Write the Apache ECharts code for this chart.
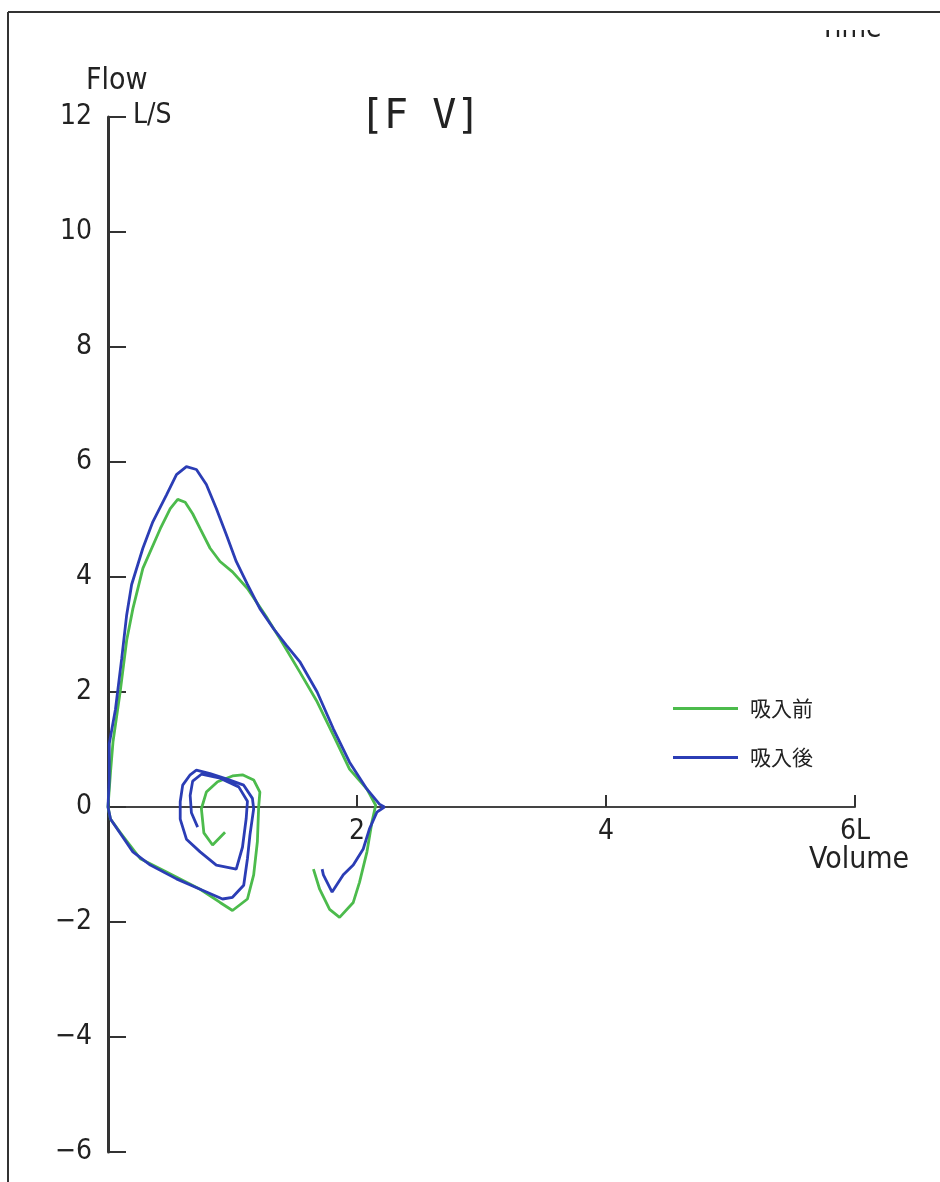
<!DOCTYPE html>
<html>
<head>
<meta charset="utf-8">
<script src="https://cdn.jsdelivr.net/npm/echarts@6/dist/echarts.min.js"></script>
<style>html,body{margin:0;padding:0;background:#fff;}#c{width:940px;height:1182px;}</style>
</head>
<body>
<div id="c"></div>
<script>
// Series names
const seriesNames = ['吸入前', '吸入後'];
// Axis ticks
const xTicks = [0, 2, 4, 6];
const yTicks = [-6, -4, -2, 0, 2, 4, 6, 8, 10, 12];

// 吸入前 (before): tidal loops, drawn from the inner spiral end back to the origin [volume L, flow L/s]
const beforeTidal = [
  [0.94,-0.44],[0.84,-0.66],[0.77,-0.45],[0.75,-0.03],[0.79,0.26],[0.88,0.44],[1.0,0.54],[1.08,0.56],
  [1.17,0.47],[1.22,0.26],[1.21,0.0],[1.2,-0.6],[1.17,-1.18],[1.12,-1.6],[1.0,-1.8],[0.9,-1.66],
  [0.74,-1.43],[0.47,-1.13],[0.26,-0.9],[0.1,-0.45],[0.02,-0.21],[0,0]
];
// 吸入前: forced expiration and following inspiration
const beforeForced = [
  [0.02,0.6],[0.04,1.13],[0.1,2.04],[0.15,2.9],[0.2,3.45],[0.28,4.15],[0.42,4.84],[0.5,5.19],
  [0.56,5.35],[0.62,5.3],[0.68,5.1],[0.74,4.84],[0.82,4.5],[0.9,4.27],[1.0,4.09],[1.12,3.8],
  [1.28,3.28],[1.38,2.93],[1.54,2.35],[1.68,1.83],[1.81,1.25],[1.94,0.66],[2.08,0.31],[2.15,0.03],
  [2.12,-0.26],[2.08,-0.78],[2.02,-1.31],[1.97,-1.66],[1.86,-1.92],[1.78,-1.78],[1.7,-1.43],[1.65,-1.08]
];
// 吸入後 (after): tidal loops, from the inner spiral end back to the origin
const afterTidal = [
  [0.72,-0.35],[0.67,-0.1],[0.66,0.2],[0.68,0.45],[0.75,0.57],[0.9,0.5],[1.05,0.35],[1.12,0.1],
  [1.11,-0.2],[1.08,-0.7],[1.03,-1.08],[0.87,-1.01],[0.74,-0.78],[0.63,-0.56],[0.58,-0.21],[0.58,0.09],
  [0.6,0.38],[0.66,0.56],[0.71,0.64],[0.82,0.58],[0.95,0.49],[1.09,0.38],[1.16,0.15],[1.17,-0.03],
  [1.14,-0.49],[1.12,-0.9],[1.09,-1.36],[1.0,-1.57],[0.92,-1.6],[0.74,-1.43],[0.55,-1.25],[0.34,-1.01],
  [0.2,-0.78],[0.02,-0.21],[0,0]
];
// 吸入後: forced expiration and following inspiration
const afterForced = [
  [0.01,0.5],[0.01,1.1],[0.06,1.7],[0.11,2.58],[0.15,3.34],[0.19,3.87],[0.28,4.5],[0.36,4.96],
  [0.47,5.43],[0.55,5.78],[0.63,5.92],[0.71,5.87],[0.79,5.61],[0.87,5.19],[0.95,4.74],[1.03,4.27],
  [1.12,3.87],[1.22,3.45],[1.33,3.1],[1.43,2.82],[1.54,2.53],[1.68,2.0],[1.81,1.36],[1.94,0.78],
  [2.08,0.31],[2.18,0.05],[2.22,0.0],
  [2.16,-0.09],[2.1,-0.38],[2.05,-0.73],[1.97,-1.01],[1.89,-1.18],[1.8,-1.48],[1.73,-1.18],[1.72,-1.08]
];

const numFont = "'Liberation Sans Narrow','DejaVu Sans Condensed','Liberation Sans',sans-serif";
const gridTop = 117, gridBottom = 30, chartH = 1182;
const plotH = chartH - gridTop - gridBottom;
const yMin = yTicks[0], yMax = yTicks[yTicks.length-1];
// place the x axis (line, ticks, labels) at flow = 0
const xAxisOffset = -plotH * (0 - yMin) / (yMax - yMin);

const chart = echarts.init(document.getElementById('c'), null, {renderer: 'canvas'});
chart.setOption({
  animation: false,
  backgroundColor: '#ffffff',
  grid: {left: 108, right: 85, top: gridTop, bottom: gridBottom, containLabel: false, outerBoundsMode: 'none'},
  legend: {
    orient: 'vertical', left: 668, top: 693,
    icon: 'rect', itemWidth: 65, itemHeight: 3, itemGap: 28,
    textStyle: {fontSize: 21, color: '#222', fontFamily: "'Noto Sans CJK JP',sans-serif", padding: [0,0,0,7]},
    data: seriesNames
  },
  xAxis: {
    type: 'value', min: xTicks[0], max: xTicks[xTicks.length-1], interval: 2,
    position: 'bottom', offset: xAxisOffset,
    axisLine: {onZero: false, lineStyle: {color: '#444', width: 2}},
    axisTick: {inside: true, length: 12, lineStyle: {color: '#333', width: 2}},
    splitLine: {show: false},
    axisLabel: {
      margin: 11, fontSize: 28, color: '#222', fontFamily: numFont,
      formatter: v => v === 0 ? '' : (v === 6 ? '6L' : String(v))
    }
  },
  yAxis: {
    type: 'value', min: yMin, max: yMax, interval: 2,
    axisLine: {show: true, onZero: false, lineStyle: {color: '#333', width: 3}},
    axisTick: {show: true, inside: true, length: 18, lineStyle: {color: '#333', width: 2}},
    splitLine: {show: false},
    axisLabel: {
      margin: 16, fontSize: 28, color: '#222', fontFamily: numFont,
      formatter: v => (v < 0 ? '\u2212' + Math.abs(v) : String(v))
    }
  },
  series: [
    {name: seriesNames[0], type: 'line', symbol: 'none', smooth: false, z: 2,
     itemStyle: {color: '#4cbb4c'}, lineStyle: {color: '#4cbb4c', width: 2.8},
     data: beforeTidal.concat(beforeForced)},
    {name: seriesNames[1], type: 'line', symbol: 'none', smooth: false, z: 3,
     itemStyle: {color: '#2b3db5'}, lineStyle: {color: '#2b3db5', width: 2.8},
     data: afterTidal.concat(afterForced)}
  ],
  graphic: [
    {type: 'text', left: 820, top: 16, z: 1, style: {text: 'Time', fontSize: 28, fill: '#222', fontFamily: numFont}},
    {type: 'rect', left: 700, top: 13, z: 2, shape: {width: 240, height: 17}, style: {fill: '#ffffff'}},
    {type: 'line', z: 10, shape: {x1: 8, y1: 12, x2: 940, y2: 12}, style: {stroke: '#333', lineWidth: 2}},
    {type: 'line', z: 10, shape: {x1: 8, y1: 12, x2: 8, y2: 1182}, style: {stroke: '#333', lineWidth: 2}},
    {type: 'text', left: 86, top: 66, style: {text: 'Flow', fontSize: 30, fill: '#222', fontFamily: numFont}},
    {type: 'text', left: 133, top: 102, style: {text: 'L/S', fontSize: 28, fill: '#222', fontFamily: numFont}},
    {type: 'text', left: 360, top: 98, style: {text: '[F V]', fontSize: 40, fill: '#222', fontFamily: "'DejaVu Sans Mono',monospace"}},
    {type: 'text', left: 809, top: 845, style: {text: 'Volume', fontSize: 30, fill: '#222', fontFamily: numFont}}
  ]
});
</script>
</body>
</html>
